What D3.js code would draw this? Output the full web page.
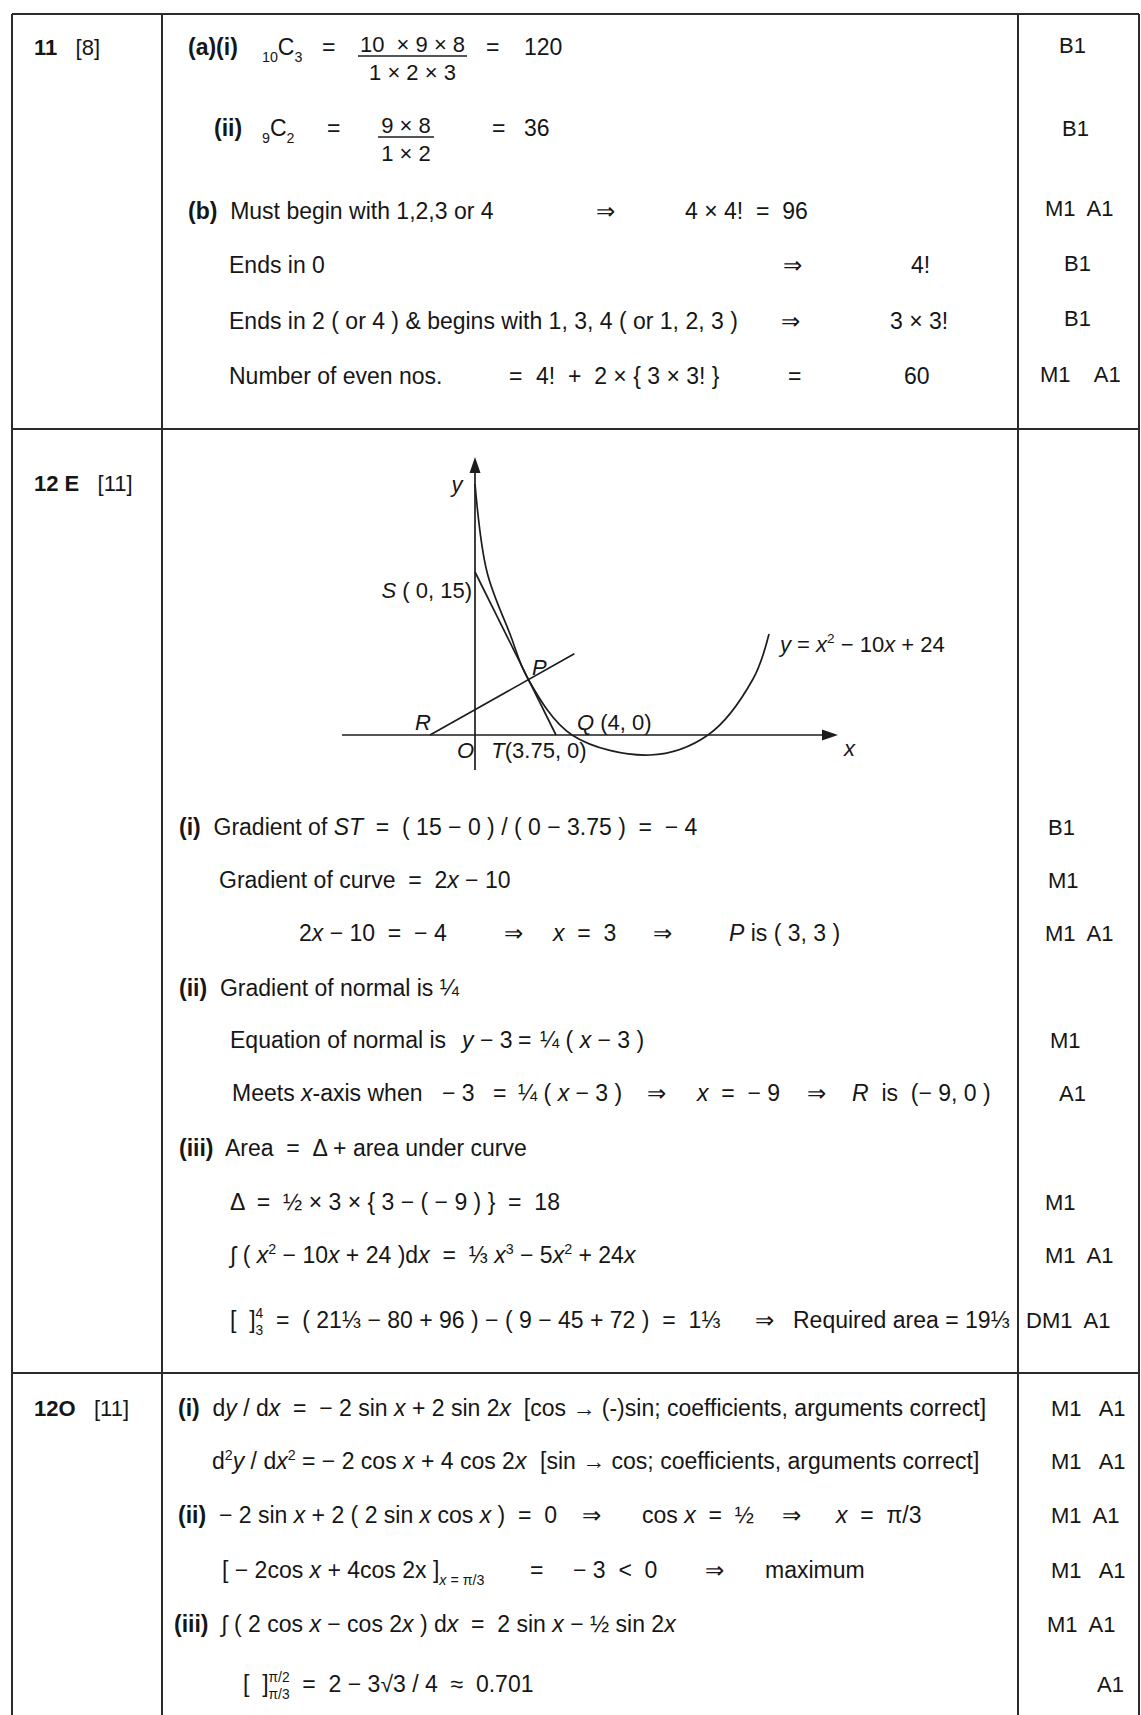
<!DOCTYPE html>
<html><head><meta charset="utf-8">
<script src="https://cdn.jsdelivr.net/npm/d3@7"></script>
<style>
html,body{margin:0;padding:0;background:#fff;}
svg{display:block;}
text{font-family:"Liberation Sans",Arial,Helvetica,sans-serif;fill:#161616;white-space:pre;}
</style></head><body>
<script>
// ---------------- CONTENT ----------------
// markup: #bold#  *italic*  ^sup^  ~sub~  %upper|lower% (stacked limits)
const qLabels = ["#11#   [8]", "#12 E#   [11]", "#12O#   [11]"];

const row1Lines = [
  ["#(a)(i)#", "~10~C~3~", "=", {num: "10  × 9 × 8", den: "1 × 2 × 3"}, "=", "120"],
  ["#(ii)#", "~9~C~2~", "=", {num: "9 × 8", den: "1 × 2"}, "=", "36"],
  ["#(b)#  Must begin with 1,2,3 or 4", "⇒", "4 × 4!  =  96"],
  ["Ends in 0", "⇒", "4!"],
  ["Ends in 2 ( or 4 ) & begins with 1, 3, 4 ( or 1, 2, 3 )", "⇒", "3 × 3!"],
  ["Number of even nos.", "=", "4!  +  2 × { 3 × 3! }", "=", "60"]
];
const row1Marks = ["B1", "B1", "M1  A1", "B1", "B1", "M1    A1"];

const row2Lines = [
  ["#(i)#  Gradient of *ST*  =  ( 15 − 0 ) / ( 0 − 3.75 )  =  − 4"],
  ["Gradient of curve  =  2*x* − 10"],
  ["2*x* − 10  =  − 4", "⇒", "*x*  =  3", "⇒", "*P* is ( 3, 3 )"],
  ["#(ii)#  Gradient of normal is ¼"],
  ["Equation of normal is", "*y* − 3", "=", "¼ ( *x* − 3 )"],
  ["Meets *x*-axis when", "− 3", "=", "¼ ( *x* − 3 )", "⇒", "*x*  =  − 9", "⇒", "*R*  is  (− 9, 0 )"],
  ["#(iii)#  Area  =  Δ + area under curve"],
  ["Δ  =  ½ × 3 × { 3 − ( − 9 ) }  =  18"],
  ["∫ ( *x*^2^ − 10*x* + 24 )d*x*  =  ⅓ *x*^3^ − 5*x*^2^ + 24*x*"],
  ["[  ]%4|3%  =  ( 21⅓ − 80 + 96 ) − ( 9 − 45 + 72 )  =  1⅓", "⇒", "Required area = 19⅓"]
];
const row2Marks = ["B1", "M1", "M1  A1", "", "M1", "A1", "", "M1", "M1  A1", "DM1  A1"];

const row3Lines = [
  ["#(i)#  d*y* / d*x*  =  − 2 sin *x* + 2 sin 2*x*  [cos → (-)sin; coefficients, arguments correct]"],
  ["d^2^*y* / d*x*^2^ = − 2 cos *x* + 4 cos 2*x*", "[sin → cos; coefficients, arguments correct]"],
  ["#(ii)#  − 2 sin *x* + 2 ( 2 sin *x* cos *x* )  =  0", "⇒", "cos *x*  =  ½", "⇒", "*x*  =  π/3"],
  ["[ − 2cos *x* + 4cos 2x ]~*x* = π/3~", "=", "− 3  <  0", "⇒", "maximum"],
  ["#(iii)#  ∫ ( 2 cos *x* − cos 2*x* ) d*x*  =  2 sin *x* − ½ sin 2*x*"],
  ["[  ]%π/2|π/3%  =  2 − 3√3 / 4  ≈  0.701"]
];
const row3Marks = ["M1   A1", "M1   A1", "M1  A1", "M1   A1", "M1  A1", "A1"];

// graph data (curve y = x² − 10x + 24 and the constructed lines)
const curveX = [0, 1, 2, 3, 4, 5, 6, 7, 8];
const curveY = [24, 15, 8, 3, 0, -1, 0, 3, 8];
const tangentST = [[0, 15], [3.75, 0]];
const normalLine = [[-9, 0], [4.03, 5.8]];
const xAxisExtent = [-11, 11];
const yAxisExtent = [-4, 27];
const curveLabel = "*y* = *x*^2^ − 10*x* + 24";

// ---------------- LAYOUT ----------------
const W = 1141, H = 1715, FS = 23, FS_MARK = 22, FS_GRAPH = 22;
const colX = [12, 162, 1018, 1139];
const rowY = [14, 429, 1373];
const qLabelY = [47, 483, 1408];
const row1X = [[188, 262, 322, 358, 486, 524], [214, 262, 327, 378, 492, 524], [188, 596, 685], [229, 783, 911], [229, 781, 890], [229, 509, 536, 788, 904]];
const row1Y = [47, 128, 211, 265, 321, 376];
const fracW = [109, 56];
const row1MarkX = [1059, 1062, 1045, 1064, 1064, 1040];
const row1MarkY = [45, 128, 208, 263, 318, 374];
const row2X = [[179], [219], [299, 504, 553, 653, 729], [179], [230, 462, 518, 540], [232, 442, 493, 518, 647, 697, 807, 852], [179], [230], [230], [230, 755, 793]];
const row2Y = [827, 880, 933, 988, 1040, 1093, 1148, 1202, 1255, 1320];
const row2MarkX = [1048, 1048, 1045, 0, 1050, 1059, 0, 1045, 1045, 1026];
const row3X = [[178], [212, 540], [178, 582, 642, 782, 836], [222, 530, 573, 705, 765], [174], [243]];
const row3Y = [1408, 1461, 1515, 1570, 1624, 1684];
const row3MarkX = [1051, 1051, 1051, 1051, 1047, 1097];
// schematic (not-to-scale) diagram: piecewise linear scales
const gxStops = [-11, -9, 0, 1, 2, 3, 3.75, 4, 5, 6, 7, 8, 11];
const gxPix   = [342, 430, 475, 487, 510, 528, 556, 572, 650, 708, 753, 769, 838];
const gyStops = [-4, -1, 0, 3, 8, 15, 24, 27];
const gyPix   = [770, 755, 735, 679, 634, 572, 484, 457];

// ---------------- DRAW ----------------
const svg = d3.select("body").append("svg").attr("width", W).attr("height", H);
svg.append("rect").attr("width", W).attr("height", H).attr("fill", "#fff");

function parseRich(s) {
  const runs = []; const st = {b: false, i: false, sup: false, sub: false}; let buf = "";
  const flush = () => { if (buf) { runs.push({t: buf, ...st}); buf = ""; } };
  for (let k = 0; k < s.length; k++) {
    const c = s[k];
    if (c === "#") { flush(); st.b = !st.b; }
    else if (c === "*") { flush(); st.i = !st.i; }
    else if (c === "^") { flush(); st.sup = !st.sup; }
    else if (c === "~") { flush(); st.sub = !st.sub; }
    else if (c === "%") { flush(); const e = s.indexOf("%", k + 1); runs.push({lim: s.slice(k + 1, e).split("|")}); k = e; }
    else buf += c;
  }
  flush();
  return runs;
}

function rich(g, s, x, yc, opts = {}) {
  const fs = opts.fs || FS;
  const t = g.append("text").attr("x", x).attr("y", yc + fs * 0.36)
    .attr("font-size", fs).attr("xml:space", "preserve");
  if (opts.anchor) t.attr("text-anchor", opts.anchor);
  let shift = 0, pendDx = 0;
  parseRich(s).forEach(r => {
    if (r.lim) {
      const up = t.append("tspan").attr("font-size", fs * 0.6).attr("dy", -fs * 0.45 - shift).text(r.lim[0]);
      const w1 = up.node().getComputedTextLength();
      const lo = t.append("tspan").attr("font-size", fs * 0.6).attr("dx", -w1).attr("dy", fs * 0.75).text(r.lim[1]);
      const w2 = lo.node().getComputedTextLength();
      shift = fs * 0.3;
      pendDx = Math.max(0, w1 - w2);
      return;
    }
    const target = r.sup ? -fs * 0.42 : (r.sub ? fs * 0.3 : 0);
    const sp = t.append("tspan").attr("dy", target - shift).text(r.t);
    if (pendDx) { sp.attr("dx", pendDx); pendDx = 0; }
    shift = target;
    if (r.sup || r.sub) sp.attr("font-size", fs * 0.62);
    if (r.b) sp.attr("font-weight", "bold");
    if (r.i) sp.attr("font-style", "italic");
  });
  return t;
}

// table rules
const grid = svg.append("g").attr("stroke", "#2b2b2b").attr("stroke-width", 2);
colX.forEach(x => grid.append("line").attr("x1", x).attr("x2", x).attr("y1", rowY[0]).attr("y2", H));
rowY.forEach(y => grid.append("line").attr("x1", colX[0]).attr("x2", colX[3]).attr("y1", y).attr("y2", y));

const txt = svg.append("g");
qLabels.forEach((s, i) => rich(txt, s, 34, qLabelY[i], {fs: FS_MARK}));

function drawRow(lines, xs, ys) {
  let fi = 0;
  lines.forEach((line, li) => {
    line.forEach((chunk, ci) => {
      const x = xs[li][ci], yc = ys[li];
      if (typeof chunk === "string") rich(txt, chunk, x, yc);
      else {
        const w = fracW[fi++];
        rich(txt, chunk.num, x + w / 2, yc - 3, {anchor: "middle", fs: FS_MARK});
        txt.append("line").attr("x1", x).attr("x2", x + w).attr("y1", yc + 9).attr("y2", yc + 9)
          .attr("stroke", "#1d1d1d").attr("stroke-width", 1.5);
        rich(txt, chunk.den, x + w / 2, yc + 25, {anchor: "middle", fs: FS_MARK});
      }
    });
  });
}
drawRow(row1Lines, row1X, row1Y);
drawRow(row2Lines, row2X, row2Y);
drawRow(row3Lines, row3X, row3Y);

row1Marks.forEach((m, i) => m && rich(txt, m, row1MarkX[i], row1MarkY[i], {fs: FS_MARK}));
row2Marks.forEach((m, i) => m && rich(txt, m, row2MarkX[i], row2Y[i], {fs: FS_MARK}));
row3Marks.forEach((m, i) => m && rich(txt, m, row3MarkX[i], row3Y[i], {fs: FS_MARK}));

// ---------------- DIAGRAM ----------------
const xS = d3.scaleLinear().domain(gxStops).range(gxPix);
const yS = d3.scaleLinear().domain(gyStops).range(gyPix);
const gr = svg.append("g").attr("fill", "none").attr("stroke", "#1d1d1d").attr("stroke-width", 1.7);

// axes
gr.append("line").attr("x1", xS(xAxisExtent[0])).attr("x2", xS(xAxisExtent[1]) - 10)
  .attr("y1", yS(0)).attr("y2", yS(0));
gr.append("line").attr("x1", xS(0)).attr("x2", xS(0))
  .attr("y1", yS(yAxisExtent[0])).attr("y2", yS(yAxisExtent[1]) + 10);
const ax = xS(xAxisExtent[1]), ay = yS(0);
svg.append("path").attr("d", `M${ax},${ay} L${ax - 16},${ay - 5.5} L${ax - 16},${ay + 5.5} Z`).attr("fill", "#1d1d1d");
const bx = xS(0), by = yS(yAxisExtent[1]);
svg.append("path").attr("d", `M${bx},${by} L${bx - 5.5},${by + 16} L${bx + 5.5},${by + 16} Z`).attr("fill", "#1d1d1d");

// curve
const pts = curveX.map((x, i) => [x, curveY[i]]);
const line = d3.line().x(d => xS(d[0])).y(d => yS(d[1]));
gr.append("path").attr("d", line.curve(d3.curveCatmullRom.alpha(0.5))(pts));
// tangent ST and normal through P
gr.append("path").attr("d", d3.line().x(d => xS(d[0])).y(d => yS(d[1]))(tangentST));
gr.append("path").attr("d", d3.line().x(d => xS(d[0])).y(d => yS(d[1]))(normalLine));

// labels
const lg = svg.append("g");
const gf = {fs: FS_GRAPH};
rich(lg, "*y*", xS(0) - 18, yS(24), {...gf, anchor: "middle"});
rich(lg, "*S* ( 0, 15)", xS(0) - 3, yS(15) + 18, {...gf, anchor: "end"});
rich(lg, "*P*", xS(3) + 4, yS(3) - 12, gf);
rich(lg, "*R*", xS(-9) - 7, yS(0) - 13, {...gf, anchor: "middle"});
rich(lg, "*Q* (4, 0)", xS(4) + 5, yS(0) - 13, gf);
rich(lg, "*O*", xS(0) - 1, yS(0) + 15, {...gf, anchor: "end"});
rich(lg, "*T*(3.75, 0)", xS(3.75) - 17, yS(0) + 15, {...gf, anchor: "middle"});
rich(lg, "*x*", xS(xAxisExtent[1]) + 6, yS(0) + 13, gf);
rich(lg, curveLabel, xS(8) + 11, yS(8) + 10, gf);
</script>
</body></html>
